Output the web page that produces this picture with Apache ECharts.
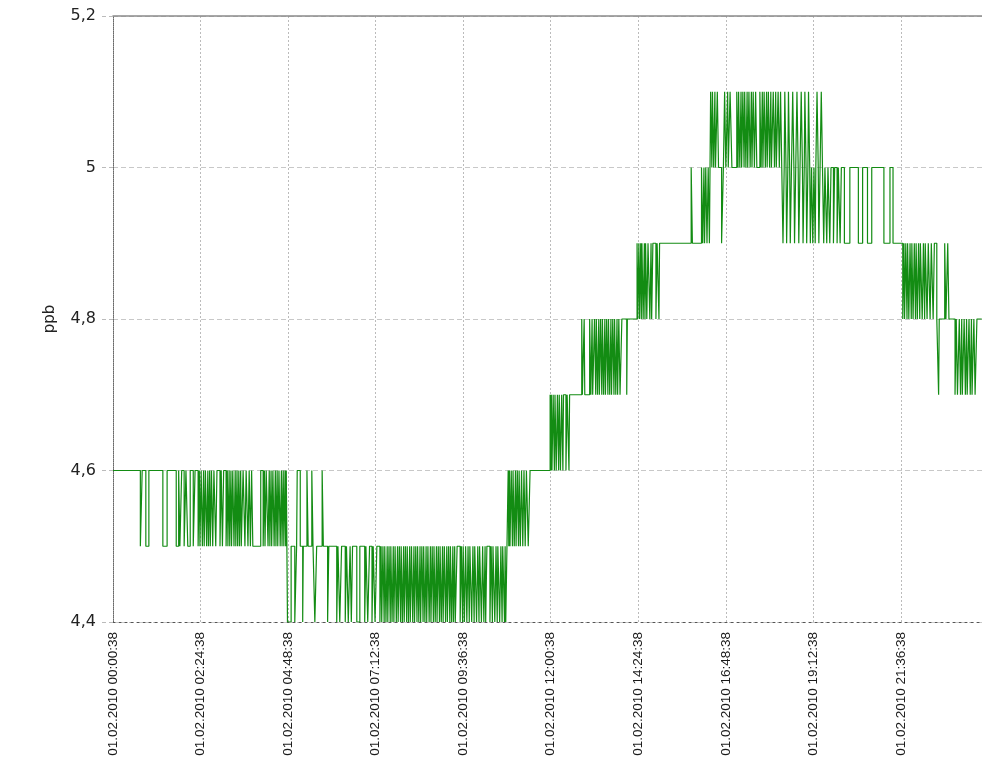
<!DOCTYPE html>
<html>
<head>
<meta charset="utf-8">
<style>
  html, body { margin: 0; padding: 0; background: #fff; }
  #container { width: 982px; height: 763px; }
</style>
</head>
<body>
<div id="container"></div>
<script src="https://cdn.jsdelivr.net/npm/echarts@6/dist/echarts.min.js"></script>
<script>
// time in minutes after 01.02.2010 00:00:38, values in ppb
var xMax = 1431;
var xStep = 144;
var yTicks = [4.4, 4.6, 4.8, 5.0, 5.2];

// level blocks: from/to minute, base level, alternative level
var blockFrom = [0, 286, 650, 719, 752, 837, 862, 900, 982, 1102, 1283, 1355];
var blockTo   = [286, 650, 719, 752, 837, 862, 900, 982, 1102, 1283, 1355, 1429];
var blockBase = [4.6, 4.5, 4.6, 4.7, 4.7, 4.8, 4.9, 4.9, 5.0, 5.0, 4.9, 4.8];
var blockAlt  = [4.5, 4.4, 4.5, 4.6, 4.8, 4.7, 4.8, 5.0, 5.1, 4.9, 4.8, 4.7];

// excursions away from the base level: [start, end, value (default: alt)]
var blockSpikes = [
  [[45,48],[54,59],[82,89],[104,108],[110,113],[117,120],[123,127],[132,135],
   [140,142],[143,145],[147,149],[150,152],[154,156],[157,159],[160,162],
   [164,166],[169,171],[176,178],[180,182],
   [186,188],[189,191],[192,194],[195,197],[199,201],[202,204],[205,207],[208,210],[211,214],
   [217,219],[222,224],[226,228],[230,243],[247,249],[250,252],
   [255,257],[258,260],[261,263],[265,267],[268,270],[271,273],[275,277],[278,280],[281,283],[284,285]],
  [[287,293],[299,302],[303,308,4.6],[312,313],[319,321,4.6],[327,329,4.6],[332,335],[344,346,4.6],[353,355],
   [368,370],[373,376],[382,384],[387,390],[392,394],[401,406],[414,416],[419,422],[426,428],[431,434],
   [439,441],[442,444],[446,447],[449,451],[452,454],[456,457],[459,461],[462,464],[466,468],[469,471],
   [473,474],[476,478],[479,481],[483,484],[486,488],[489,491],[493,495],[496,498],[500,501],[503,505],
   [506,508],[510,511],[513,515],[516,518],[520,522],[523,525],[527,528],[530,532],[533,535],[537,538],
   [540,542],[543,545],[547,549],[550,552],[554,555],[557,559],[560,562],[563,566],
   [571,573],[575,576],[578,580],[582,584],[586,587],[590,592],[594,595],[598,600],[602,603],[606,608],
   [610,612],[613,615],
   [620,622],[624,625],[628,630],[632,633],[636,638],[640,641],[644,645],[646,648]],
  [[651,652],[653,655],[657,658],[660,662],[663,665],[667,668],[670,672],[674,676],[678,680],[683,686]],
  [[720,721],[722,724],[726,727],[729,731],[733,734],[736,738],[740,741],[745,747],[750,751]],
  [[771,772],[775,776],[784,786],[788,789],[792,794],[795,797],[799,800],[802,804],[805,807],[809,810],
   [812,814],[815,817],[819,820],[822,824],[825,827],[829,830],[832,834]],
  [[845,846]],
  [[863,865],[866,868],[869,870],[872,874],[875,876],[878,880],[883,885],[886,888],[893,895],[898,899]],
  [[951,953],[968,970],[972,973],[975,977],[979,981]],
  [[983,985],[986,988],[990,991],[994,996],[1001,1004,4.9],[1006,1008],[1011,1012],[1015,1018],
   [1026,1028],[1029,1031],[1033,1034],[1036,1038],[1039,1041],[1043,1044],[1046,1048],[1050,1051],
   [1053,1055],[1057,1059],
   [1064,1066],[1068,1069],[1071,1073],[1075,1076],[1078,1080],[1082,1083],[1086,1088],[1090,1091],
   [1094,1096],[1098,1100]],
  [[1102,1104],[1105,1107,5.1],[1108,1110],[1111,1113,5.1],[1114,1116],[1118,1120,5.1],[1121,1123],
   [1125,1127,5.1],[1128,1130],[1132,1134,5.1],[1135,1137],[1138,1140,5.1],[1141,1143],[1144,1146,5.1],
   [1147,1149],[1151,1153],[1155,1156],[1158,1160,5.1],[1161,1163],[1165,1167,5.1],[1169,1171],
   [1174,1176],[1179,1181],[1185,1187],[1191,1193],[1196,1198],
   [1203,1212],[1226,1233],[1241,1248],[1268,1278]],
  [[1299,1301],[1302,1304],[1306,1307],[1309,1311],[1313,1314],[1316,1318],[1320,1321],[1323,1325],
   [1327,1328],[1331,1333],[1335,1336],[1339,1341],[1344,1346],[1349,1351]],
  [[1358,1359],[1368,1370,4.9],[1373,1375,4.9],[1385,1387],[1389,1392],[1394,1396],[1397,1400],
   [1402,1404],[1405,1408],[1410,1412],[1413,1416],[1418,1421]]
];

var points = [];
blockFrom.forEach(function (from, i) {
  var base = blockBase[i];
  points.push([from, base]);
  blockSpikes[i].forEach(function (s) {
    var v = s.length > 2 ? s[2] : blockAlt[i];
    points.push([s[0], base], [s[0], v], [s[1], v], [s[1], base]);
  });
  points.push([blockTo[i], base]);
});

function pad(n) { return (n < 10 ? '0' : '') + n; }
function timeLabel(v) {
  if (v % xStep !== 0) return '';
  return '01.02.2010 ' + pad(Math.floor(v / 60)) + ':' + pad(v % 60) + ':38';
}

var chart = echarts.init(document.getElementById('container'), null, { renderer: 'canvas' });

var option = {
  animation: false,
  textStyle: { fontFamily: 'Liberation Sans, Arial, sans-serif' },
  grid: { left: 113, right: -1, top: 16, bottom: 141, outerBoundsMode: 'none' },
  xAxis: [
    {
      type: 'value',
      min: 0,
      max: xMax,
      interval: xStep,
      axisLine: { lineStyle: { color: '#555', type: [2, 4], width: 1 } },
      axisTick: { show: false },
      axisLabel: {
        rotate: 90,
        margin: 10,
        fontSize: 13.5,
        color: '#1a1a1a',
        showMaxLabel: false,
        formatter: timeLabel
      },
      splitLine: { show: true, lineStyle: { color: '#bbb', type: [2, 2], width: 1 } }
    },
    {
      type: 'value',
      position: 'top',
      min: 0,
      max: xMax,
      axisLine: { show: true, lineStyle: { color: '#8a8a8a', width: 1.5 } },
      axisTick: { show: false },
      axisLabel: { show: false },
      splitLine: { show: false }
    }
  ],
  yAxis: {
    type: 'value',
    min: yTicks[0],
    max: yTicks[yTicks.length - 1],
    interval: 0.2,
    name: 'ppb',
    nameLocation: 'middle',
    nameGap: 55,
    nameTextStyle: { fontSize: 15, color: '#222', fontFamily: 'DejaVu Sans, sans-serif' },
    axisLine: { show: true, lineStyle: { color: '#666', type: [1, 1], width: 1 } },
    axisTick: { show: true, length: 11, lineStyle: { color: '#bbb', type: [4, 3] } },
    axisLabel: {
      margin: 17,
      fontSize: 16,
      fontFamily: 'DejaVu Sans, sans-serif',
      color: '#222',
      formatter: function (v) { return String(+v.toFixed(1)).replace('.', ','); }
    },
    splitLine: { show: true, lineStyle: { color: '#c8c8c8', type: [5, 3], width: 1 } }
  },
  series: [
    {
      type: 'line',
      data: points,
      showSymbol: false,
      symbol: 'none',
      sampling: null,
      lineStyle: { color: '#138c13', width: 1.2 },
      itemStyle: { color: '#138c13' }
    }
  ]
};

chart.setOption(option);
window.addEventListener('resize', chart.resize);
</script>
</body>
</html>
